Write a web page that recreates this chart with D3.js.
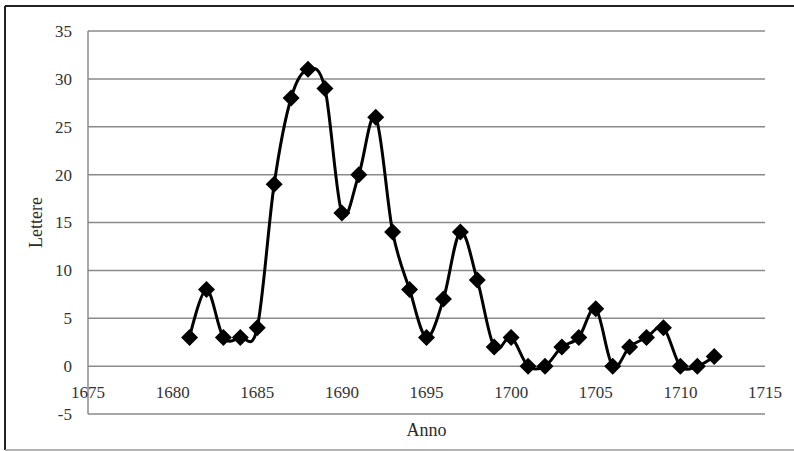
<!DOCTYPE html>
<html><head><meta charset="utf-8">
<script src="https://cdn.jsdelivr.net/npm/d3@7"></script>
<style>body{margin:0;background:#fff}svg{display:block}</style>
</head><body>
<svg id="c" width="794" height="451"></svg>
<script>
const years = [1681,1682,1683,1684,1685,1686,1687,1688,1689,1690,1691,1692,1693,1694,1695,1696,1697,1698,1699,1700,1701,1702,1703,1704,1705,1706,1707,1708,1709,1710,1711,1712];
const letters = [3,8,3,3,4,19,28,31,29,16,20,26,14,8,3,7,14,9,2,3,0,0,2,3,6,0,2,3,4,0,0,1];
const xTicks = [1675,1680,1685,1690,1695,1700,1705,1710,1715];
const yTicks = [-5,0,5,10,15,20,25,30,35];
const xTitle = "Anno", yTitle = "Lettere";

const svg = d3.select("#c");
const font = "'Liberation Serif', 'DejaVu Serif', serif";
const L = 88, R = 765, T = 31, B = 414;
const x = d3.scaleLinear().domain([1675,1715]).range([L,R]);
const y = d3.scaleLinear().domain([-5,35]).range([B,T]);

// outer frame
svg.append("line").attr("x1",5).attr("x2",794).attr("y1",6).attr("y2",6).attr("stroke","#222").attr("stroke-width",2);
svg.append("line").attr("x1",5).attr("x2",5).attr("y1",6).attr("y2",450).attr("stroke","#222").attr("stroke-width",2);
svg.append("line").attr("x1",5).attr("x2",794).attr("y1",450).attr("y2",450).attr("stroke","#999").attr("stroke-width",1.5);

// gridlines
svg.append("g").selectAll("line").data(yTicks).join("line")
  .attr("x1",L).attr("x2",R).attr("y1",d=>y(d)).attr("y2",d=>y(d))
  .attr("stroke","#8a8a8a").attr("stroke-width",1.5);
// y axis line
svg.append("line").attr("x1",L).attr("x2",L).attr("y1",T).attr("y2",B).attr("stroke","#8a8a8a").attr("stroke-width",1.5);

// y labels
svg.append("g").selectAll("text").data(yTicks).join("text")
  .attr("x",72).attr("y",d=>y(d)).attr("dy","0.35em").attr("text-anchor","end")
  .attr("font-family",font).attr("font-size",17).attr("fill","#333").text(d=>d);
// x labels
svg.append("g").selectAll("text").data(xTicks).join("text")
  .attr("x",d=>x(d)).attr("y",398).attr("text-anchor","middle")
  .attr("font-family",font).attr("font-size",17).attr("fill","#333").text(d=>d);

// titles
svg.append("text").attr("x",(L+R)/2).attr("y",436).attr("text-anchor","middle")
  .attr("font-family",font).attr("font-size",18).attr("fill","#2a2a2a").text(xTitle);
svg.append("text").attr("transform",`translate(42,${(T+B)/2}) rotate(-90)`).attr("text-anchor","middle")
  .attr("font-family",font).attr("font-size",18).attr("fill","#2a2a2a").text(yTitle);

const data = years.map((yr,i)=>({yr,v:letters[i]}));
const line = d3.line().x(d=>x(d.yr)).y(d=>y(d.v)).curve(d3.curveCardinal.tension(0));
svg.append("path").datum(data).attr("d",line).attr("fill","none").attr("stroke","#000").attr("stroke-width",3);

const s = 8.5;
svg.append("g").selectAll("path").data(data).join("path")
  .attr("transform",d=>`translate(${x(d.yr)},${y(d.v)})`)
  .attr("d",`M0,${-s}L${s},0L0,${s}L${-s},0Z`).attr("fill","#000");
</script>
</body></html>
